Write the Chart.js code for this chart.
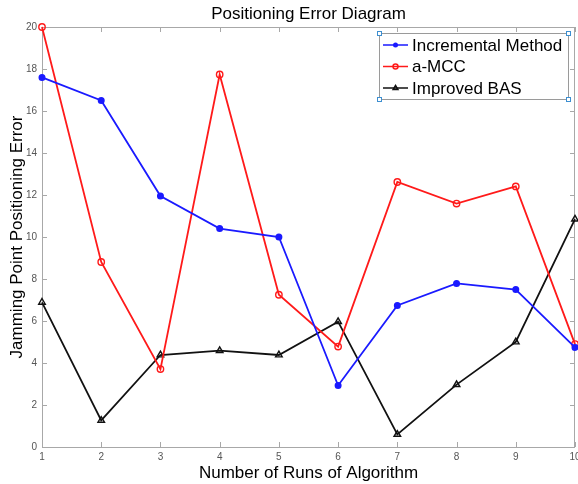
<!DOCTYPE html>
<html>
<head>
<meta charset="utf-8">
<script src="https://cdn.jsdelivr.net/npm/chart.js@4"></script>
<style>
  html, body { margin: 0; padding: 0; background: #fff; overflow: hidden; }
</style>
</head>
<body>
<canvas id="myChart" width="578" height="484"></canvas>
<script>
// runs of the algorithm (x) and error per method
const runs = [1, 2, 3, 4, 5, 6, 7, 8, 9, 10];
const incremental = [17.6, 16.5, 11.95, 10.4, 10.0, 2.93, 6.74, 7.79, 7.5, 4.74];
const aMCC = [20.0, 8.81, 3.71, 17.74, 7.25, 4.78, 12.62, 11.59, 12.41, 4.9];
const improvedBAS = [6.89, 1.27, 4.38, 4.59, 4.38, 5.97, 0.6, 2.97, 5.0, 10.85];
const seriesNames = ['Incremental Method', 'a-MCC', 'Improved BAS'];
const yTicks = [0, 2, 4, 6, 8, 10, 12, 14, 16, 18, 20];
const chartTitle = 'Positioning Error Diagram';

const FONT = "'Liberation Sans', Arial, Helvetica, sans-serif";
const AXIS_GREY = '#a8a8a8';

function points(vals) {
    return vals.map(function (v, i) { return { x: runs[i], y: v }; });
}

// MATLAB-like box with inward ticks on all four sides, title centred over the axes
const boxAxes = {
    id: 'boxAxes',
    beforeDatasetsDraw(chart) {
        const c = chart.ctx, a = chart.chartArea;
        const xs = chart.scales.x, ys = chart.scales.y;
        const len = 5;
        c.save();
        c.strokeStyle = AXIS_GREY;
        c.lineWidth = 1;
        c.strokeRect(a.left + 0.5, a.top + 0.5, a.right - a.left - 1, a.bottom - a.top);
        c.beginPath();
        runs.forEach(function (r) {
            const px = Math.round(xs.getPixelForValue(r)) + 0.5;
            c.moveTo(px, a.bottom); c.lineTo(px, a.bottom - len);
            c.moveTo(px, a.top); c.lineTo(px, a.top + len);
        });
        yTicks.forEach(function (t) {
            const py = Math.round(ys.getPixelForValue(t)) + 0.5;
            c.moveTo(a.left, py); c.lineTo(a.left + len, py);
            c.moveTo(a.right, py); c.lineTo(a.right - len, py);
        });
        c.stroke();
        c.fillStyle = '#000';
        c.font = '17px ' + FONT;
        c.textAlign = 'center';
        c.textBaseline = 'middle';
        c.fillText(chartTitle, (a.left + a.right) / 2, 14);
        c.restore();
    }
};

function drawMarker(c, style, x, y, r, color) {
    c.strokeStyle = color;
    c.fillStyle = color;
    c.lineWidth = 1.5;
    c.beginPath();
    if (style === 'circle-open') {
        c.arc(x, y, r, 0, Math.PI * 2);
        c.stroke();
    } else if (style === 'triangle') {
        c.moveTo(x, y - r);
        c.lineTo(x + r * 0.95, y + r * 0.6);
        c.lineTo(x - r * 0.95, y + r * 0.6);
        c.closePath();
        c.stroke();
    } else {
        c.arc(x, y, r, 0, Math.PI * 2);
        c.fill();
    }
}

// legend box in the top right corner of the plot
const boxLegend = {
    id: 'boxLegend',
    afterDatasetsDraw(chart) {
        const c = chart.ctx;
        const left = 379, top = 33, right = 568, bottom = 99;
        const marks = ['circle', 'circle-open', 'triangle'];
        c.save();
        c.fillStyle = '#fff';
        c.fillRect(left, top, right - left, bottom - top);
        c.strokeStyle = '#9a9a9a';
        c.lineWidth = 1;
        c.strokeRect(left + 0.5, top + 0.5, right - left, bottom - top);
        c.font = '17px ' + FONT;
        c.textBaseline = 'middle';
        chart.data.datasets.forEach(function (ds, i) {
            const y = 45 + i * 21.5;
            c.strokeStyle = ds.borderColor;
            c.lineWidth = 1.5;
            c.beginPath();
            c.moveTo(383, y); c.lineTo(408, y);
            c.stroke();
            drawMarker(c, marks[i], 395.5, y, 2.5, ds.borderColor);
            c.fillStyle = '#000';
            c.fillText(ds.label, 412, y + 1);
        });
        // selection handles at the corners
        c.strokeStyle = '#3d8fd1';
        c.fillStyle = '#fff';
        c.lineWidth = 1;
        [[left, top], [right, top], [left, bottom], [right, bottom]].forEach(function (p) {
            c.fillRect(p[0] - 2, p[1] - 2, 4, 4);
            c.strokeRect(p[0] - 2 + 0.5, p[1] - 2 + 0.5, 4, 4);
        });
        c.restore();
    }
};

const ctx = document.getElementById('myChart');
const myChart = new Chart(ctx, {
    type: 'line',
    data: {
        datasets: [{
            label: seriesNames[0],
            data: points(incremental),
            borderColor: '#1a1aff',
            backgroundColor: '#1a1aff',
            pointStyle: 'circle',
            pointRadius: 2.6,
            borderWidth: 1.8
        }, {
            label: seriesNames[1],
            data: points(aMCC),
            borderColor: '#ff1a1a',
            backgroundColor: 'rgba(0,0,0,0)',
            pointStyle: 'circle',
            pointRadius: 3.2,
            pointBorderWidth: 1.4,
            borderWidth: 1.8
        }, {
            label: seriesNames[2],
            data: points(improvedBAS),
            borderColor: '#111111',
            backgroundColor: 'rgba(0,0,0,0)',
            pointStyle: 'triangle',
            pointRadius: 3.8,
            pointBorderWidth: 1.4,
            borderWidth: 1.8
        }]
    },
    options: {
        responsive: false,
        animation: false,
        devicePixelRatio: 1,
        layout: { autoPadding: false, padding: { top: 27, right: 3, left: 0, bottom: 0 } },
        elements: { line: { tension: 0 } },
        datasets: { line: { clip: false } },
        plugins: {
            legend: { display: false },
            tooltip: { enabled: false },
            title: { display: false }
        },
        scales: {
            x: {
                type: 'linear',
                min: 1,
                max: 10,
                grid: { display: false, drawTicks: false },
                border: { display: false },
                ticks: {
                    stepSize: 1,
                    autoSkip: false,
                    maxRotation: 0,
                    padding: 4,
                    color: '#555',
                    font: { family: FONT, size: 10 }
                },
                title: {
                    display: true,
                    text: 'Number of Runs of Algorithm',
                    color: '#000',
                    font: { family: FONT, size: 17 },
                    padding: { top: 0, bottom: 0 }
                },
                afterFit: function (scale) {
                    scale.height = 37;
                    scale.paddingLeft = 0;
                    scale.paddingRight = 0;
                }
            },
            y: {
                min: 0,
                max: 20,
                grid: { display: false, drawTicks: false },
                border: { display: false },
                ticks: {
                    stepSize: 2,
                    autoSkip: false,
                    padding: 5,
                    color: '#555',
                    font: { family: FONT, size: 10 }
                },
                title: {
                    display: true,
                    text: 'Jamming Point Positioning Error',
                    color: '#000',
                    font: { family: FONT, size: 17 },
                    padding: { top: 7, bottom: 0 }
                },
                afterFit: function (scale) {
                    scale.width = 42;
                    scale.paddingTop = 0;
                    scale.paddingBottom = 0;
                }
            }
        }
    },
    plugins: [boxAxes, boxLegend]
});
</script>
</body>
</html>
